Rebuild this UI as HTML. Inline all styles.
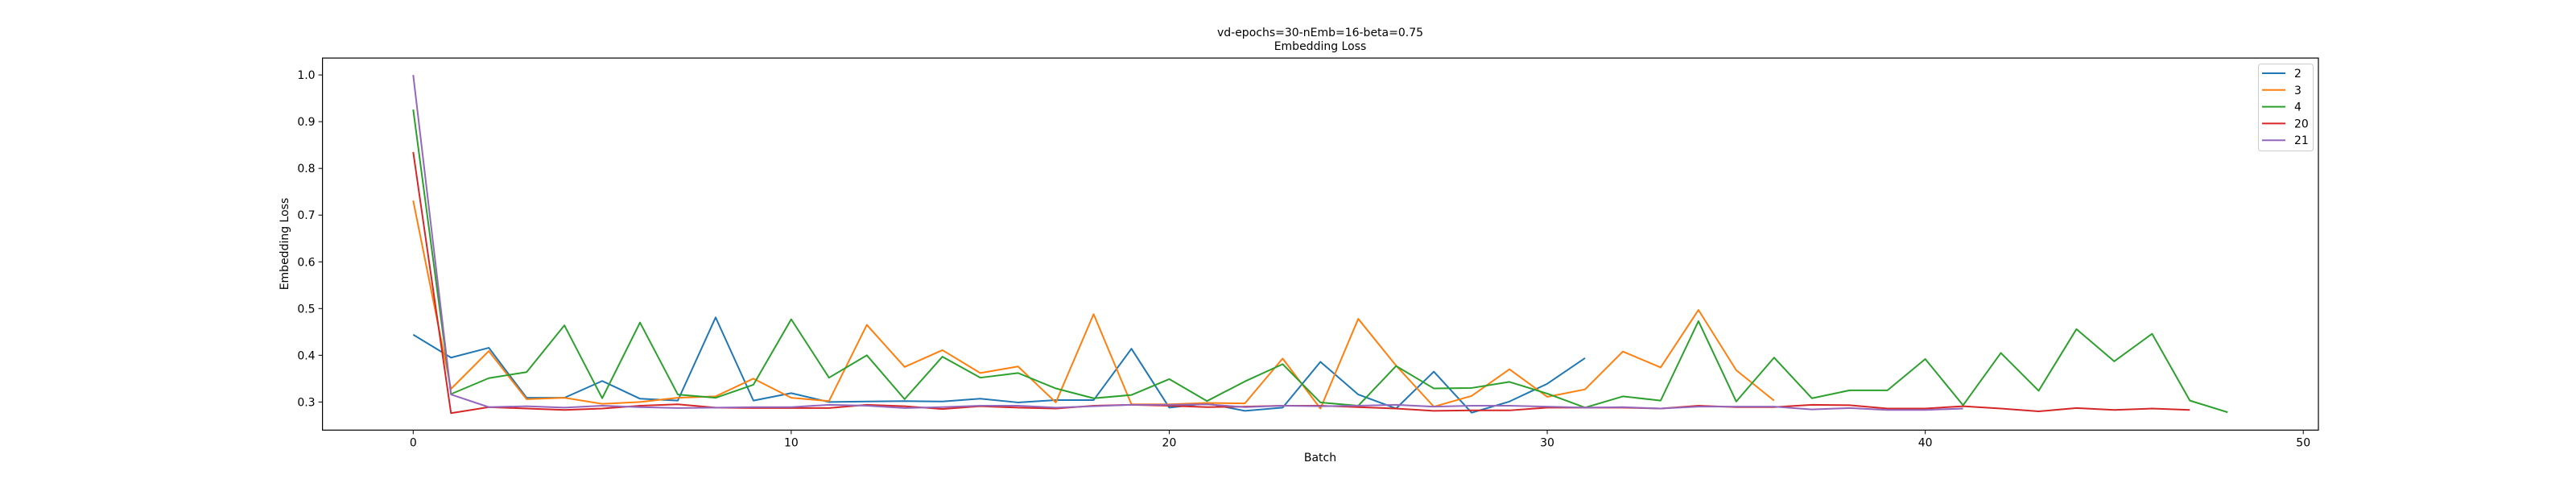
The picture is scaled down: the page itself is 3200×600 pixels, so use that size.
<!DOCTYPE html>
<html><head><meta charset="utf-8"><style>
html,body{margin:0;padding:0;background:#fff;}
svg{display:block;font-family:"DejaVu Sans","Liberation Sans",sans-serif;}
</style></head><body>
<svg id="chart" width="3200" height="600" viewBox="0 0 3200 600" xmlns="http://www.w3.org/2000/svg">
<rect width="3200" height="600" fill="#fff"/>
<text x="1640" y="45" text-anchor="middle" font-size="14">vd-epochs=30-nEmb=16-beta=0.75</text>
<text x="1640" y="62" text-anchor="middle" font-size="14">Embedding Loss</text>
<g id="plot"></g>
<text x="1640" y="573" text-anchor="middle" font-size="14">Batch</text>
<text x="358" y="303" text-anchor="middle" font-size="14" transform="rotate(-90 358 303)">Embedding Loss</text>
</svg>
<script>
const seriesNames = ["2","3","4","20","21"];
const seriesColors = ["#1f77b4","#ff7f0e","#2ca02c","#d62728","#9467bd"];
const s2 = [0.444,0.395,0.416,0.309,0.309,0.345,0.307,0.303,0.481,0.303,0.319,0.300,0.301,0.302,0.301,0.307,0.299,0.304,0.304,0.414,0.288,0.297,0.281,0.288,0.386,0.316,0.286,0.365,0.277,0.301,0.339,0.394];
const s3 = [0.731,0.328,0.409,0.306,0.309,0.296,0.300,0.309,0.312,0.350,0.309,0.302,0.465,0.375,0.411,0.362,0.376,0.299,0.488,0.295,0.295,0.298,0.297,0.393,0.286,0.478,0.378,0.290,0.313,0.370,0.311,0.327,0.408,0.374,0.497,0.368,0.303];
const s4 = [0.926,0.317,0.351,0.364,0.464,0.308,0.470,0.316,0.309,0.337,0.477,0.352,0.400,0.306,0.397,0.352,0.362,0.329,0.308,0.315,0.349,0.302,0.344,0.381,0.299,0.292,0.377,0.329,0.330,0.343,0.318,0.288,0.312,0.303,0.473,0.301,0.395,0.308,0.325,0.325,0.392,0.293,0.405,0.324,0.456,0.387,0.446,0.303,0.278];
const s20 = [0.835,0.276,0.289,0.286,0.283,0.286,0.292,0.295,0.288,0.287,0.287,0.287,0.294,0.291,0.285,0.291,0.288,0.286,0.292,0.294,0.292,0.289,0.290,0.292,0.292,0.289,0.286,0.281,0.282,0.282,0.288,0.288,0.288,0.286,0.292,0.289,0.289,0.294,0.293,0.286,0.286,0.291,0.286,0.280,0.287,0.283,0.286,0.283];
const s21 = [1.0,0.316,0.289,0.291,0.288,0.292,0.289,0.287,0.288,0.289,0.289,0.294,0.292,0.287,0.289,0.292,0.292,0.288,0.291,0.294,0.294,0.295,0.289,0.292,0.291,0.292,0.294,0.290,0.292,0.292,0.290,0.288,0.289,0.286,0.290,0.290,0.290,0.284,0.287,0.283,0.283,0.286];
const xTicks = [0,10,20,30,40,50];
const yTicks = [0.3,0.4,0.5,0.6,0.7,0.8,0.9,1.0];

const allSeries = [s2,s3,s4,s20,s21];
const L=400.6,R=2880,T=72.1,B=534.3;
let maxN=0,ymin=Infinity,ymax=-Infinity;
allSeries.forEach(s=>{maxN=Math.max(maxN,s.length-1);s.forEach(v=>{ymin=Math.min(ymin,v);ymax=Math.max(ymax,v);});});
const xm=maxN*0.05, yr=(ymax-ymin)*0.05;
const x0=-xm,x1=maxN+xm,y0=ymin-yr,y1=ymax+yr;
const sx=v=>L+(v-x0)/(x1-x0)*(R-L);
const sy=v=>B-(v-y0)/(y1-y0)*(B-T);
const NS="http://www.w3.org/2000/svg";
const g=document.getElementById('plot');
function mk(tag,attrs,parent){const e=document.createElementNS(NS,tag);for(const k in attrs)e.setAttribute(k,attrs[k]);(parent||g).appendChild(e);return e;}

xTicks.forEach(t=>{
  const x=sx(t);
  const tk=mk('line',{x1:x,x2:x,y1:B,y2:B+5,stroke:'#000','stroke-width':1});
  
  
  const lb=mk('text',{x:x,y:B+20,'text-anchor':'middle','font-size':14});
  
  
  lb.textContent=String(t);
});
yTicks.forEach(t=>{
  const y=sy(t);
  const tk=mk('line',{x1:L-5,x2:L,y1:y,y2:y,stroke:'#000','stroke-width':1});
  
  
  const lb=mk('text',{x:L-9,y:y+5,'text-anchor':'end','font-size':14});
  
  
  lb.textContent=t.toFixed(1);
});
allSeries.forEach((s,i)=>{
  const pts=s.map((v,k)=>sx(k).toFixed(2)+','+sy(v).toFixed(2)).join(' ');
  const pl=mk('polyline',{points:pts,fill:'none',stroke:seriesColors[i],'stroke-width':2,'stroke-linejoin':'round'});
  
  
});
const frame=mk('rect',{x:L,y:T,width:R-L,height:B-T,fill:'none',stroke:'#000','stroke-width':1.2});



const lg=mk('g',{});


const box=mk('rect',{x:2805.5,y:79.5,width:68,height:108,rx:3,fill:'#fff',stroke:'#ccc','stroke-width':1},lg);


seriesNames.forEach((n,i)=>{
  const y=91+i*20.8;
  const ln=mk('line',{x1:2810,x2:2839,y1:y,y2:y,stroke:seriesColors[i],'stroke-width':2},lg);
  
  
  const tx=mk('text',{x:2850,y:y+5,'font-size':14},lg);
  
  
  tx.textContent=n;
});
</script>
</body></html>
